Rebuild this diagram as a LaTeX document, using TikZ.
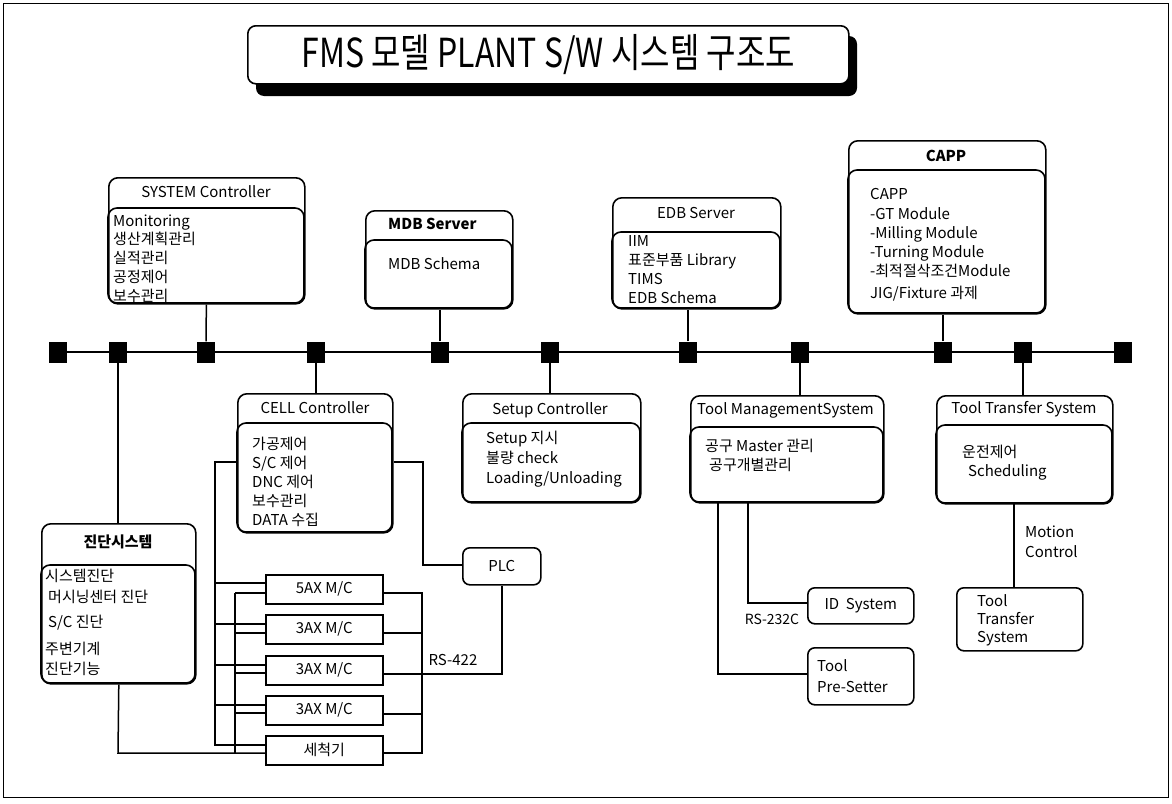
\documentclass[tikz,border=0pt]{standalone}
\usepackage{fontspec}
\setmainfont{Noto Sans CJK KR}
\newcommand\twobox[6]{%
  \node[outer, minimum width={#4-#2}, minimum height={#5-#3}] (#1) at (#2,#3) {};
  \draw[body] (#2,#6) rectangle (#4,#5);}
\begin{document}
\begin{tikzpicture}[x=1pt,y=-1pt,
  conn/.style={line width=1.5pt},
  outer/.style={draw, line width=1.6pt, rounded corners=9pt, inner sep=0pt, anchor=north west},
  body/.style={draw, line width=1.6pt, rounded corners=9pt},
  hdr/.style={font=\fontsize{15}{18}\selectfont, inner sep=0pt, text height=11pt, text depth=3pt},
  txt/.style={font=\fontsize{15}{18}\selectfont, inner sep=0pt, anchor=west, text height=11pt, text depth=3pt},
  sq/.style={fill=black, minimum width=18pt, minimum height=21pt, inner sep=0pt},
  mbox/.style={draw, line width=1.6pt, minimum width=117pt, minimum height=29pt, inner sep=0pt, anchor=north west, font=\fontsize{15}{18}\selectfont},
  sbox/.style={draw, line width=1.6pt, rounded corners=7pt, inner sep=0pt, anchor=north west}]
\useasboundingbox (0,0) rectangle (1172,803);
\draw[line width=1pt] (3,3) rectangle (1168,797);
% title
\fill[rounded corners=8pt] (256,36) rectangle (857,96);
\node[draw, fill=white, line width=1.6pt, rounded corners=8pt, minimum width=601pt, minimum height=58pt, inner sep=0pt, anchor=north west] (title) at (247,25) {};
\node[inner sep=0pt] (titletext) at (title.center) {\scalebox{0.8}[1]{\fontsize{40}{48}\selectfont FMS 모델 PLANT S/W 시스템 구조도}};
% bus squares
\foreach \x [count=\i] in {58,118,206,316,440,550,688,800,943,1023,1123}
  \node[sq] (sq\i) at (\x,352) {};
\draw[line width=2pt] (sq1) -- (sq11);
% two-part boxes
\twobox{sys}{108}{177}{304}{303}{208}
\twobox{mdb}{365}{210}{512}{308}{240}
\twobox{edb}{612}{197}{780}{308}{232}
\twobox{capp}{848}{140}{1045}{313}{170}
\twobox{diag}{41}{523}{195}{683}{565}
\twobox{cell}{237}{393}{392}{532}{423}
\twobox{setup}{462}{393}{640}{502}{423}
\twobox{tms}{690}{395}{883}{502}{427}
\twobox{tts}{936}{395}{1112}{503}{425}
% headers
\node[hdr] (sysH) at (206,193) {SYSTEM Controller};
\node[hdr, anchor=west] (mdbH) at (388,225) {\textbf{MDB Server}};
\node[hdr] (edbH) at (696,214) {EDB Server};
\node[hdr] (cappH) at (946,157) {\textbf{CAPP}};
\node[hdr] (diagH) at (118,543) {\textbf{진단시스템}};
\node[hdr] (cellH) at (315,409) {CELL Controller};
\node[hdr] (setupH) at (550,410) {Setup Controller};
\node[hdr, anchor=west] (tmsH) at (697,410) {Tool ManagementSystem};
\node[hdr] (ttsH) at (1024,409) {Tool Transfer System};
% body texts
\foreach \t [count=\i] in {Monitoring,생산계획관리,실적관리,공정제어,보수관리}
  \node[txt] (sysT\i) at (113,{222+18.8*(\i-1)}) {\t};
\node[txt] (mdbT1) at (388,265) {MDB Schema};
\foreach \t [count=\i] in {IIM,표준부품 Library,TIMS,EDB Schema}
  \node[txt] (edbT\i) at (628,{242+19.3*(\i-1)}) {\t};
\foreach \t/\y [count=\i] in {CAPP/195,-GT Module/215,-Milling Module/234,-Turning Module/253,-최적절삭조건Module/272,{JIG/Fixture 과제}/294}
  \node[txt] (cappT\i) at (870,\y) {\t};
\foreach \t/\y/\x [count=\i] in {시스템진단/577/45,머시닝센터 진단/598/48,{S/C 진단}/623/48,주변기계/650/45,진단기능/670/45}
  \node[txt] (diagT\i) at (\x,\y) {\t};
\foreach \t [count=\i] in {가공제어,S/C 제어,DNC 제어,보수관리,DATA 수집}
  \node[txt] (cellT\i) at (252,{445+19.2*(\i-1)}) {\t};
\foreach \t [count=\i] in {Setup 지시,불량 check,Loading/Unloading}
  \node[txt] (setupT\i) at (486,{439+20*(\i-1)}) {\t};
\node[txt] (tmsT1) at (705,447) {공구 Master 관리};
\node[txt] (tmsT2) at (709,466) {공구개별관리};
\node[txt] (ttsT1) at (962,453) {운전제어};
\node[txt] (ttsT2) at (968,472) {Scheduling};
% bus connections
\draw[conn] (sys) -- (sq3);
\draw[conn] (sq5) -- (sq5 |- mdb.south);
\draw[conn] (sq7) -- (sq7 |- edb.south);
\draw[conn] (sq9) -- (sq9 |- capp.south);
\draw[conn] (sq2) -- (sq2 |- diag.north);
\draw[conn] (sq4) -- (sq4 |- cell.north);
\draw[conn] (sq6) -- (sq6 |- setup.north);
\draw[conn] (sq8) -- (sq8 |- tms.north);
\draw[conn] (sq10) -- (sq10 |- tts.north);
% small boxes
\node[sbox, minimum width=78pt, minimum height=37pt] (plc) at (462,547) {};
\node[inner sep=0pt, font=\fontsize{15}{18}\selectfont] (plcT) at (plc.center) {PLC};
\node[sbox, minimum width=106pt, minimum height=36pt] (id) at (807,587) {};
\node[inner sep=0pt, font=\fontsize{15}{18}\selectfont] (idT) at (id.center) {ID\ \ System};
\node[sbox, minimum width=106pt, minimum height=57pt] (pre) at (807,647) {};
\node[txt] (preT1) at (817,667) {Tool};
\node[txt] (preT2) at (817,688) {Pre-Setter};
\node[sbox, minimum width=126pt, minimum height=63pt] (ttsl) at (956,587) {};
\node[txt] (ttslT1) at (977,602) {Tool};
\node[txt] (ttslT2) at (977,620) {Transfer};
\node[txt] (ttslT3) at (977,638) {System};
% machines
\node[mbox] (m1) at (265,574) {5AX M/C};
\node[mbox] (m2) at (265,614) {3AX M/C};
\node[mbox] (m3) at (265,655) {3AX M/C};
\node[mbox] (m4) at (265,695) {3AX M/C};
\node[mbox] (m5) at (265,735) {세척기};
% cell controller wiring
\draw[conn] (cell.west |- 0,462) -- (215,462) -- (215,745) -- (m5.west |- 0,745);
\foreach \m/\y in {m1/583,m2/624,m3/665,m4/705}
  \draw[conn] (215,\y) -- (\m.west |- 0,\y);
\draw[conn] (235,593) -- (235,753);
\foreach \m/\y in {m1/593,m2/633,m3/673,m4/713}
  \draw[conn] (235,\y) -- (\m.west |- 0,\y);
\draw[conn] (diag.south) -- (118,753) -- (m5.west |- 0,753);
\draw[conn] (m1.east |- 0,593) -- (422,593) -- (422,753) -- (m5.east |- 0,753);
\foreach \m/\y in {m2/633,m4/714}
  \draw[conn] (\m.east |- 0,\y) -- (422,\y);
\draw[conn] (m3.east |- 0,674) -- (502,674) -- (502,0 |- plc.south);
\node[inner sep=0pt, font=\fontsize{15}{18}\selectfont] (rs422) at (453,660) {RS-422};
\draw[conn] (cell.east |- 0,462) -- (423,462) -- (423,565) -- (plc.west |- 0,565);
% tool management wiring
\draw[conn] (718,502) -- (718,674) -- (pre.west |- 0,674);
\draw[conn] (748,502) -- (748,603) -- (id.west |- 0,603);
\node[inner sep=0pt, font=\fontsize{14}{18}\selectfont] (rs232) at (772,619) {RS-232C};
% tool transfer wiring
\draw[conn] (1014,503) -- (ttsl.north -| 1014,0);
\node[txt] (mc1) at (1025,533) {Motion};
\node[txt] (mc2) at (1025,553) {Control};
\end{tikzpicture}
\end{document}
